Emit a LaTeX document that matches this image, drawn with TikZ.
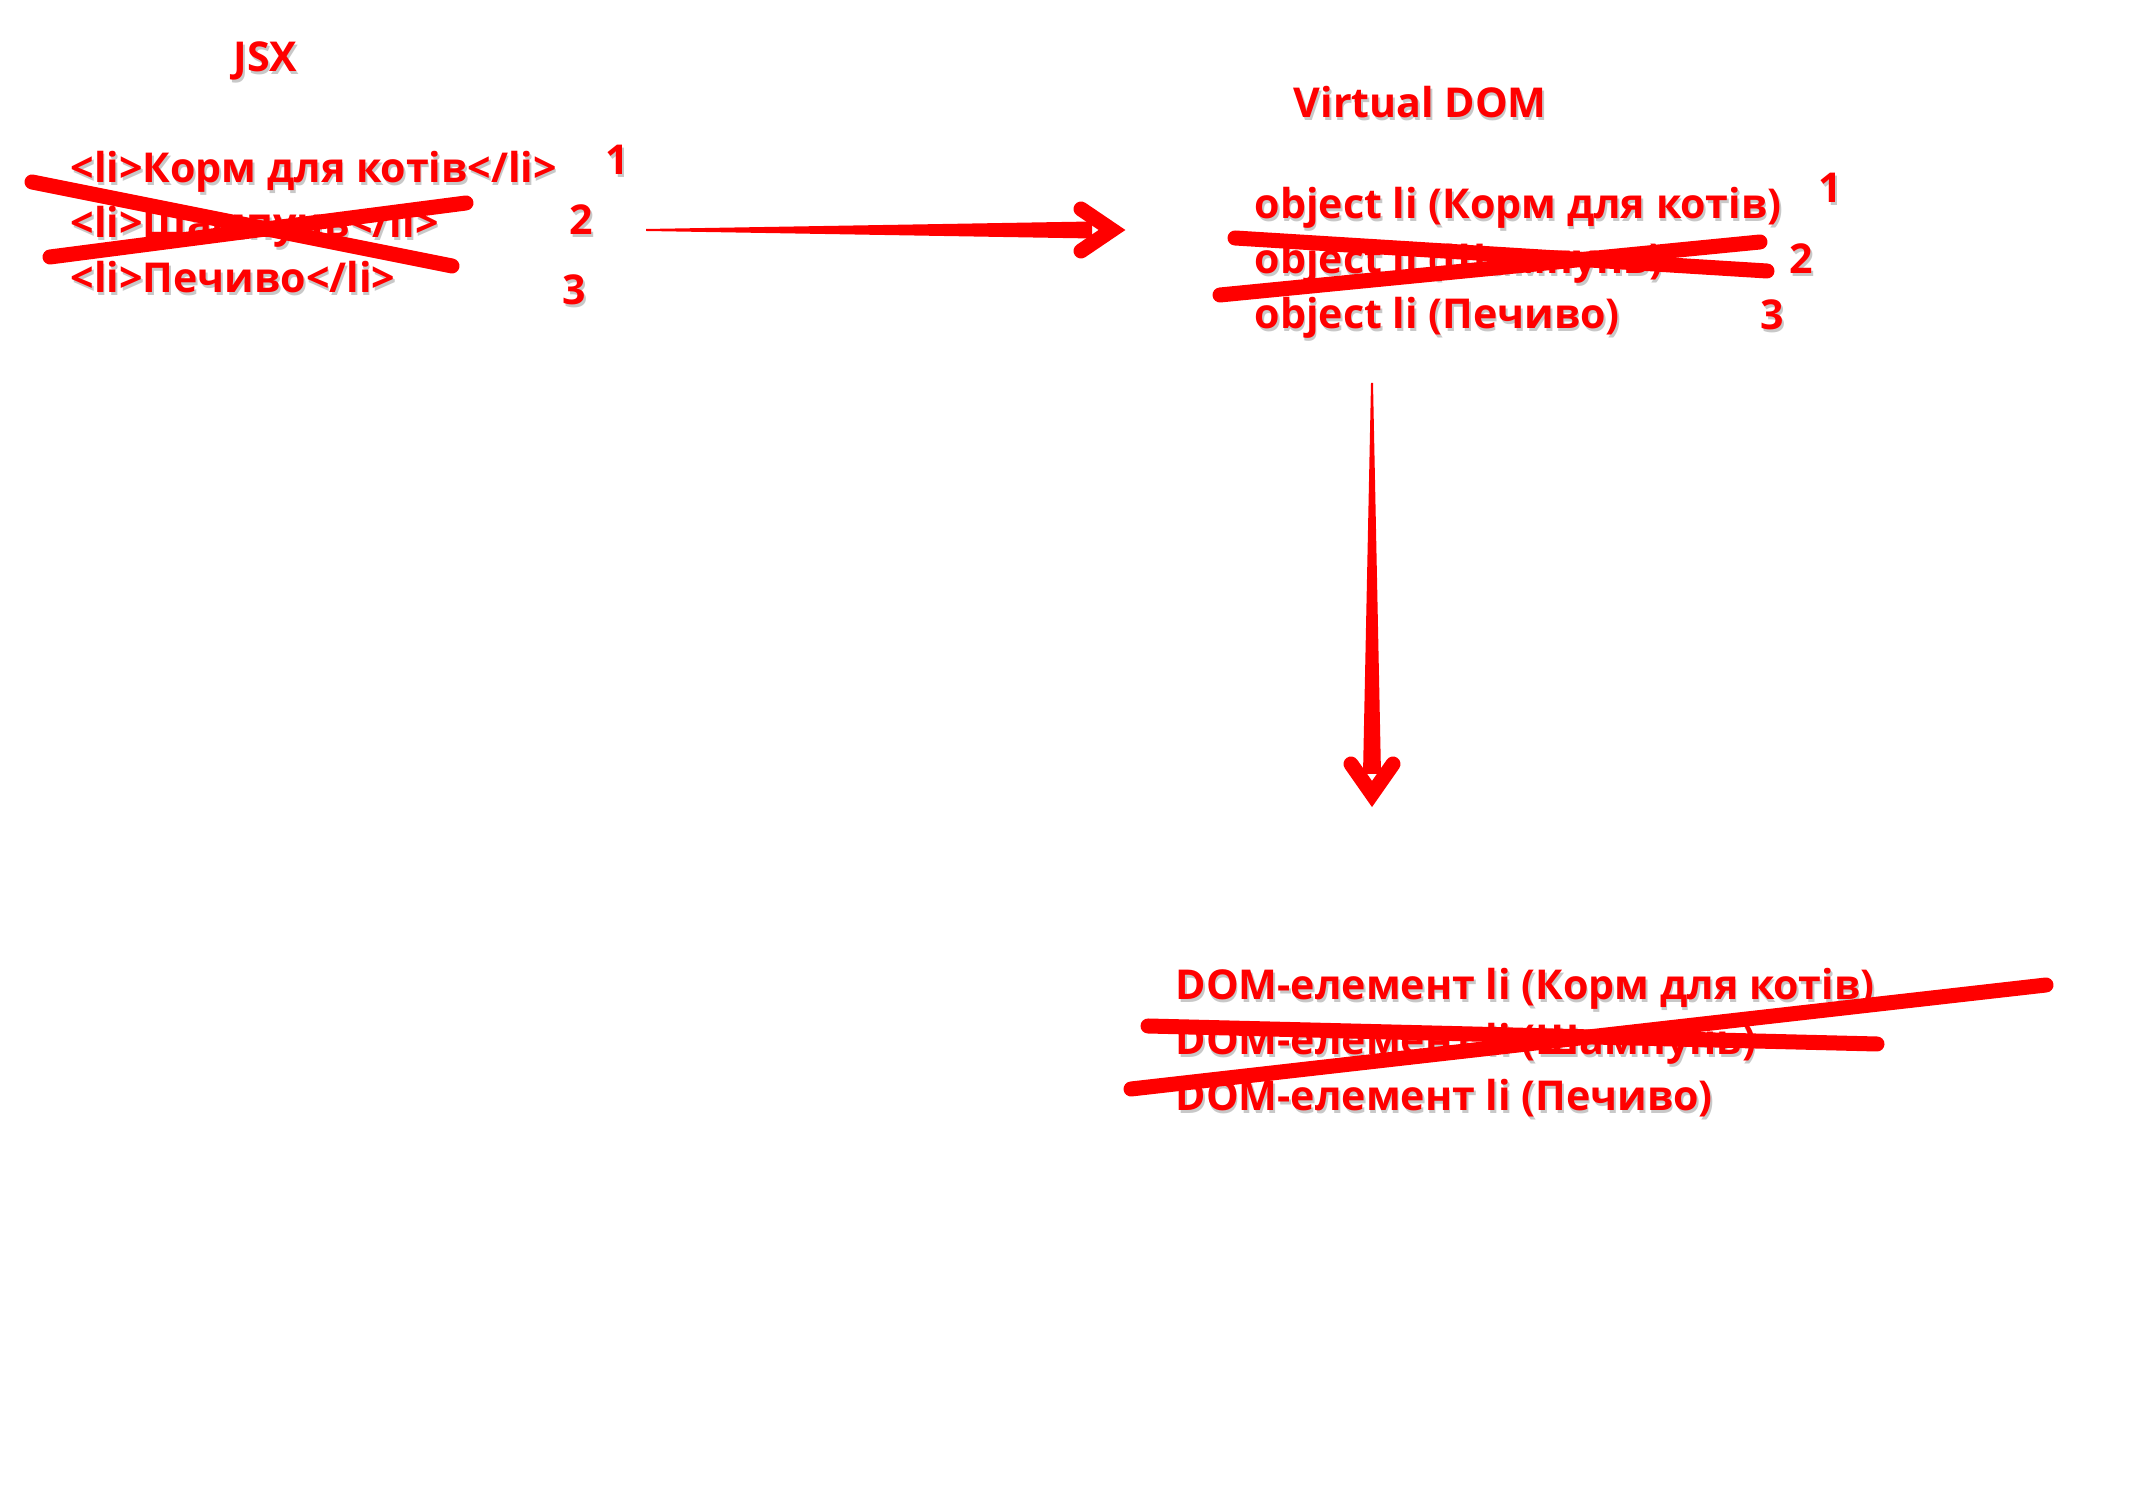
\documentclass[tikz,border=0pt]{standalone}
\usepackage{fontspec}
\setmainfont{Open Sans}
\usetikzlibrary{calc, positioning}
\definecolor{markred}{RGB}{255, 0, 0}
\definecolor{halogray}{RGB}{200, 200, 200}
\newcommand{\halo}[1]{\makebox[0pt][l]{\hspace{0.5pt}\raisebox{-0.8pt}{\textcolor{halogray}{#1}}}#1}

\begin{document}
\begin{tikzpicture}[x=0.01cm, y=-0.01cm,
  redtext/.style={text=markred, font=\fontsize{11.7}{14}\selectfont\bfseries, inner sep=0pt, anchor=base west},
  strike/.style={draw=markred, line width=0.15cm, line cap=round},
  barb/.style={draw=markred, line width=0.15cm, line cap=round, line join=miter}]
  \useasboundingbox[fill=white] (0,0) rectangle (2154,1504);

  % JSX
  \node[redtext] (jsxtitle) at (233,72) {\halo{JSX}};
  \node[redtext] (jsx1) at (70,183) {\halo{<li>Корм для котів</li>}};
  \node[redtext] (jsx2) at (70,238) {\halo{<li>Шампунь</li>}};
  \node[redtext] (jsx3) at (70,293) {\halo{<li>Печиво</li>}};
  \node[redtext] (jsxn1) at (605,175) {\halo{1}};
  \node[redtext] (jsxn2) at (569,235) {\halo{2}};
  \node[redtext] (jsxn3) at (562,305) {\halo{3}};
  \draw[strike] (32,182) -- (452,266);
  \draw[strike] (50,257) -- (466,203);

  % Virtual DOM
  \node[redtext] (vdomtitle) at (1293,118) {\halo{Virtual DOM}};
  \node[redtext] (vdom1) at (1254,219) {\halo{object li (Корм для котів)}};
  \node[redtext] (vdom2) at (1254,274) {\halo{object li (Шампунь)}};
  \node[redtext] (vdom3) at (1254,329) {\halo{object li (Печиво)}};
  \node[redtext] (vdomn1) at (1818,203) {\halo{1}};
  \node[redtext] (vdomn2) at (1789,274) {\halo{2}};
  \node[redtext] (vdomn3) at (1760,330) {\halo{3}};
  \draw[strike] (1235,238) -- (1767,271);
  \draw[strike] (1220,295) -- (1760,242);

  % DOM
  \node[redtext] (dom1) at (1175,1000) {\halo{DOM-елемент li (Корм для котів)}};
  \node[redtext] (dom2) at (1175,1055) {\halo{DOM-елемент li (Шампунь)}};
  \node[redtext] (dom3) at (1175,1111) {\halo{DOM-елемент li (Печиво)}};
  \draw[strike] (1148,1026) -- (1877,1044);
  \draw[strike] (1131,1089) -- (2046,985);

  % Arrows
  \coordinate (jsxout) at (646,230);
  \coordinate (vdomin) at (1112,230);
  \fill[markred] ($(jsxout)+(0,-1)$) -- ($(vdomin)+(-20,-8.5)$) -- ($(vdomin)+(-20,8.5)$) -- ($(jsxout)+(0,1)$) -- cycle;
  \draw[barb] ($(vdomin)+(-31,-21)$) -- (vdomin) -- ($(vdomin)+(-31,21)$);

  \coordinate (vdomout) at (1372,383);
  \coordinate (domin) at (1372,794);
  \fill[markred] ($(vdomout)+(-1,0)$) -- ($(domin)+(-9,-20)$) -- ($(domin)+(9,-20)$) -- ($(vdomout)+(1,0)$) -- cycle;
  \draw[barb] ($(domin)+(-21,-30)$) -- (domin) -- ($(domin)+(21,-30)$);
\end{tikzpicture}
\end{document}
